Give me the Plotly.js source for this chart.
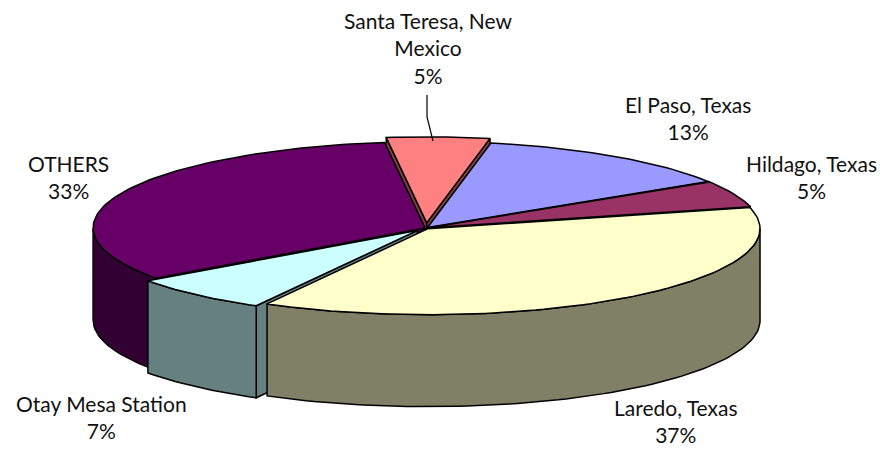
<!DOCTYPE html>
<html><head><meta charset="utf-8">
<script src="https://cdn.plot.ly/plotly-3.0.1.min.js"></script>
<style>html,body{margin:0;padding:0;background:#fff;} #chart{width:880px;height:449px;}</style>
</head><body><div id="chart"></div>
<script>
// ---- data ----
const categories = ['Santa Teresa, New Mexico', 'El Paso, Texas', 'Hildago, Texas', 'Laredo, Texas', 'Otay Mesa Station', 'OTHERS'];
const values = [5, 13, 5, 37, 7, 33];
const labelText = ['Santa Teresa, New<br>Mexico', 'El Paso, Texas', 'Hildago, Texas', 'Laredo, Texas', 'Otay Mesa Station', 'OTHERS'];

// ---- styles ----
const topColors = ['#FF8080', '#9999FF', '#993366', '#FFFFCC', '#CCFFFF', '#660066'];
const sideColors = ['#804040', '#4D4D80', '#4D1A33', '#808066', '#668080', '#330033'];
const explode = [0.06, 0.008, 0.008, 0.01, 0.04, 0.003];
const labelPos = [[428, 48, 'middle'], [688, 118, 'middle'], [811, 177, 'middle'], [675, 448, 'bottom'], [101, 417, 'middle'], [68, 177, 'middle']];
const cx = 426, cy = 228, rx = 332, ry = 86, depth = 92, startDeg = -7;
const drawOrder = [0, 1, 2, 5, 4, 3];

const total = values.reduce((s, v) => s + v, 0);
const D = Math.PI / 180;
let acc = startDeg;
const slices = values.map((v, i) => {
  const a = acc, b = acc + v / total * 360; acc = b;
  const m = (a + b) / 2;
  const off = [rx * explode[i] * Math.sin(m * D), -ry * explode[i] * Math.cos(m * D)];
  return { a, b, off, i };
});
function pt(th, r, off, h) {
  return [cx + off[0] + rx * r * Math.sin(th * D), cy + off[1] - ry * r * Math.cos(th * D) + h];
}
function arc(a, b, off, h) {
  const n = Math.max(4, Math.ceil(Math.abs(b - a) / 1.5));
  const out = [];
  for (let k = 0; k <= n; k++) out.push(pt(a + (b - a) * k / n, 1, off, h));
  return out;
}
function poly(pts, color) {
  return {
    type: 'scatter', mode: 'lines', x: pts.map(p => p[0]), y: pts.map(p => p[1]),
    fill: 'toself', fillcolor: color, line: { color: '#000', width: 1.5 },
    hoverinfo: 'skip', showlegend: false
  };
}
const traces = [];
drawOrder.forEach(idx => {
  const s = slices[idx];
  const c0 = pt(0, 0, s.off, 0), c1 = pt(0, 0, s.off, depth);
  // radial faces
  if (Math.sin(s.a * D) < 0) {
    traces.push(poly([c0, pt(s.a, 1, s.off, 0), pt(s.a, 1, s.off, depth), c1, c0], sideColors[idx]));
  }
  if (Math.sin(s.b * D) > 0) {
    traces.push(poly([c0, pt(s.b, 1, s.off, 0), pt(s.b, 1, s.off, depth), c1, c0], sideColors[idx]));
  }
  // outer wall (front half only)
  const lo = Math.max(s.a, 90), hi = Math.min(s.b, 270);
  if (lo < hi) {
    const top = arc(lo, hi, s.off, 0);
    const bot = arc(lo, hi, s.off, depth).reverse();
    traces.push(poly(top.concat(bot, [top[0]]), sideColors[idx]));
  }
  // top face
  traces.push(poly([c0].concat(arc(s.a, s.b, s.off, 0), [c0]), topColors[idx]));
});
// leader line for the first label
traces.push({ type: 'scatter', mode: 'lines', x: [427, 427, 433], y: [95, 117, 141],
  line: { color: '#000', width: 1.2 }, hoverinfo: 'skip', showlegend: false });

const annotations = values.map((v, i) => ({
  x: labelPos[i][0], y: labelPos[i][1], xref: 'x', yref: 'y', showarrow: false,
  xanchor: 'center', yanchor: labelPos[i][2], align: 'center', borderpad: 0,
  text: labelText[i] + '<br>' + Math.round(v / total * 100) + '%',
  font: { family: 'Lato, "Open Sans", sans-serif', size: 21, color: '#111' }
}));

Plotly.newPlot('chart', traces, {
  width: 880, height: 449, margin: { l: 0, r: 0, t: 0, b: 0 },
  paper_bgcolor: '#fff', plot_bgcolor: '#fff', showlegend: false,
  xaxis: { range: [0, 880], visible: false, fixedrange: true },
  yaxis: { range: [449, 0], visible: false, fixedrange: true },
  annotations
}, { displayModeBar: false, staticPlot: true });
</script></body></html>
